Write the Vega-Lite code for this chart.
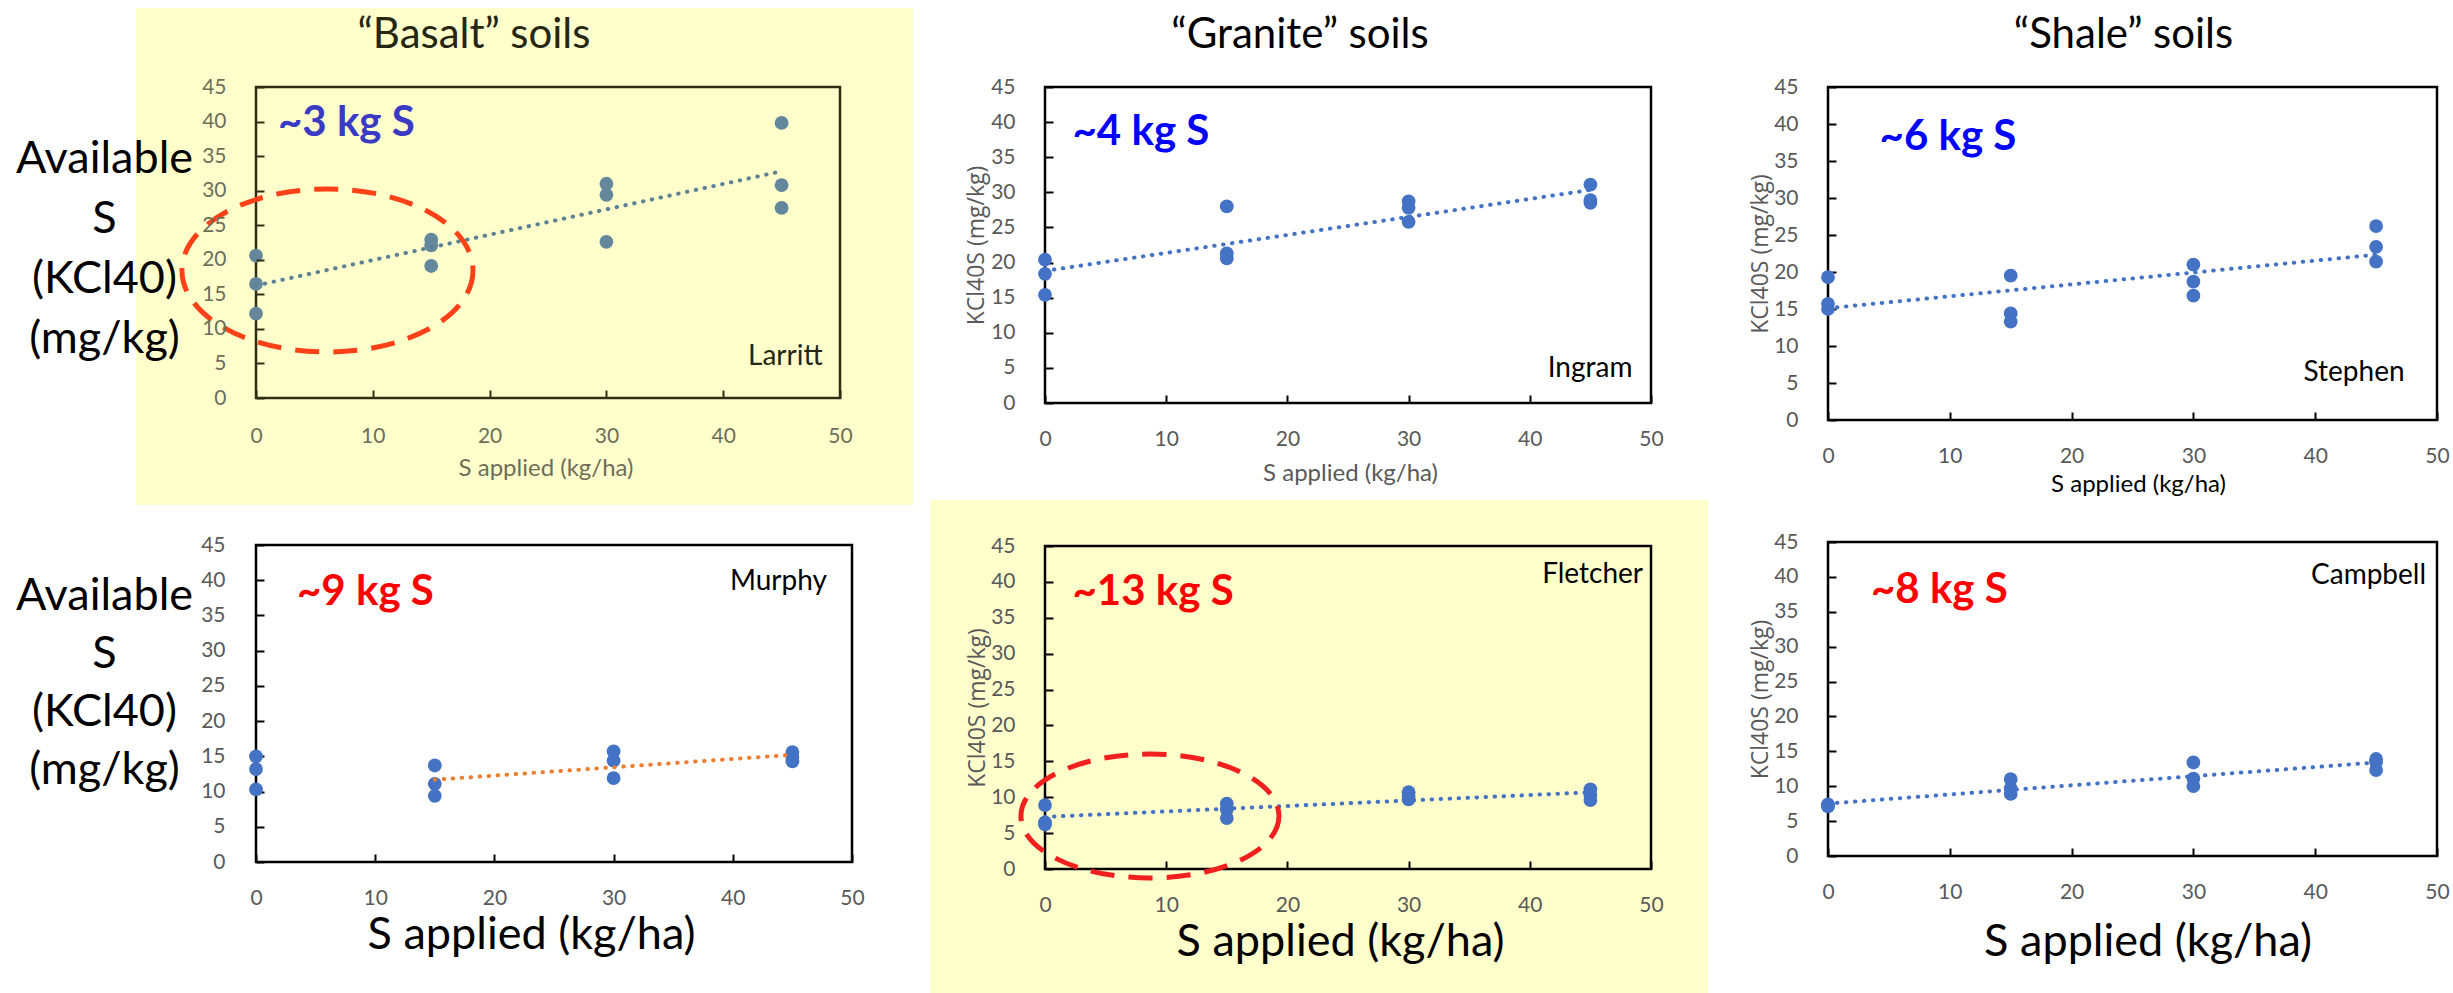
{
  "$schema": "https://vega.github.io/schema/vega-lite/v6.json",
  "autosize": {"type": "none"},
  "padding": {"left": 256, "top": 87, "right": 2197, "bottom": 906},
  "background": "#ffffff",
  "config": {
    "view": {"stroke": null},
    "axis": {
      "domain": false, "grid": false, "tickSize": -8, "tickWidth": 2, "tickColor": "#000000",
      "labelFont": "Lato", "labelFontSize": 21, "labelColor": "#595959",
      "labelFlush": false, "labelOverlap": false, "labelBound": false,
      "titleFont": "Lato", "titleFontWeight": "normal", "titleAlign": "center", "titleBaseline": "middle"
    }
  },
  "data": {
    "values": [
      {"site": "Larritt", "x": 0, "y": 20.6}, {"site": "Larritt", "x": 0, "y": 16.5}, {"site": "Larritt", "x": 0, "y": 12.2},
      {"site": "Larritt", "x": 15, "y": 22.9}, {"site": "Larritt", "x": 15, "y": 22.1}, {"site": "Larritt", "x": 15, "y": 19.1},
      {"site": "Larritt", "x": 30, "y": 31.0}, {"site": "Larritt", "x": 30, "y": 29.4}, {"site": "Larritt", "x": 30, "y": 22.6},
      {"site": "Larritt", "x": 45, "y": 39.8}, {"site": "Larritt", "x": 45, "y": 30.8}, {"site": "Larritt", "x": 45, "y": 27.5},
      {"site": "Ingram", "x": 0, "y": 20.4}, {"site": "Ingram", "x": 0, "y": 18.4}, {"site": "Ingram", "x": 0, "y": 15.4},
      {"site": "Ingram", "x": 15, "y": 28.0}, {"site": "Ingram", "x": 15, "y": 21.3}, {"site": "Ingram", "x": 15, "y": 20.6},
      {"site": "Ingram", "x": 30, "y": 28.7}, {"site": "Ingram", "x": 30, "y": 27.8}, {"site": "Ingram", "x": 30, "y": 25.8},
      {"site": "Ingram", "x": 45, "y": 31.1}, {"site": "Ingram", "x": 45, "y": 28.9}, {"site": "Ingram", "x": 45, "y": 28.5},
      {"site": "Stephen", "x": 0, "y": 19.3}, {"site": "Stephen", "x": 0, "y": 15.7}, {"site": "Stephen", "x": 0, "y": 15.0},
      {"site": "Stephen", "x": 15, "y": 19.5}, {"site": "Stephen", "x": 15, "y": 14.4}, {"site": "Stephen", "x": 15, "y": 13.3},
      {"site": "Stephen", "x": 30, "y": 21.0}, {"site": "Stephen", "x": 30, "y": 18.7}, {"site": "Stephen", "x": 30, "y": 16.8},
      {"site": "Stephen", "x": 45, "y": 26.2}, {"site": "Stephen", "x": 45, "y": 23.4}, {"site": "Stephen", "x": 45, "y": 21.4},
      {"site": "Murphy", "x": 0, "y": 15.0}, {"site": "Murphy", "x": 0, "y": 13.2}, {"site": "Murphy", "x": 0, "y": 10.3},
      {"site": "Murphy", "x": 15, "y": 13.7}, {"site": "Murphy", "x": 15, "y": 11.1}, {"site": "Murphy", "x": 15, "y": 9.4},
      {"site": "Murphy", "x": 30, "y": 15.7}, {"site": "Murphy", "x": 30, "y": 14.4}, {"site": "Murphy", "x": 30, "y": 11.9},
      {"site": "Murphy", "x": 45, "y": 15.6}, {"site": "Murphy", "x": 45, "y": 14.9}, {"site": "Murphy", "x": 45, "y": 14.3},
      {"site": "Fletcher", "x": 0, "y": 8.9}, {"site": "Fletcher", "x": 0, "y": 6.5}, {"site": "Fletcher", "x": 0, "y": 6.2},
      {"site": "Fletcher", "x": 15, "y": 9.1}, {"site": "Fletcher", "x": 15, "y": 8.3}, {"site": "Fletcher", "x": 15, "y": 7.1},
      {"site": "Fletcher", "x": 30, "y": 10.7}, {"site": "Fletcher", "x": 30, "y": 10.2}, {"site": "Fletcher", "x": 30, "y": 9.7},
      {"site": "Fletcher", "x": 45, "y": 11.1}, {"site": "Fletcher", "x": 45, "y": 10.3}, {"site": "Fletcher", "x": 45, "y": 9.6},
      {"site": "Campbell", "x": 0, "y": 7.4}, {"site": "Campbell", "x": 0, "y": 7.2}, {"site": "Campbell", "x": 0, "y": 7.1},
      {"site": "Campbell", "x": 15, "y": 11.0}, {"site": "Campbell", "x": 15, "y": 9.7}, {"site": "Campbell", "x": 15, "y": 8.9},
      {"site": "Campbell", "x": 30, "y": 13.4}, {"site": "Campbell", "x": 30, "y": 11.1}, {"site": "Campbell", "x": 30, "y": 10.0},
      {"site": "Campbell", "x": 45, "y": 13.9}, {"site": "Campbell", "x": 45, "y": 13.5}, {"site": "Campbell", "x": 45, "y": 12.3}
    ]
  },
  "spacing": 789,
  "bounds": "flush",
  "hconcat": [
    {
      "spacing": 147,
      "bounds": "flush",
      "vconcat": [
        {
          "width": 584, "height": 311,
          "resolve": {"axis": {"x": "independent", "y": "independent"}},
          "layer": [
            {"data": {"values": [{}]}, "mark": {"type": "rect", "fill": "#ffffcc"},
             "encoding": {"x": {"datum": -10.27, "type": "quantitative", "scale": {"domain": [0, 50], "nice": false, "zero": false}, "axis": null}, "x2": {"datum": 56.25},
                          "y": {"datum": -15.48, "type": "quantitative", "scale": {"domain": [0, 45], "nice": false, "zero": false}, "axis": null}, "y2": {"datum": 56.43}}},
            {"data": {"values": [{}]}, "mark": {"type": "rect", "filled": false, "stroke": "#2e2e14", "strokeWidth": 2.5},
             "encoding": {"x": {"datum": 0, "type": "quantitative", "scale": {"domain": [0, 50], "nice": false, "zero": false}, "axis": null}, "x2": {"datum": 50},
                          "y": {"datum": 0, "type": "quantitative", "scale": {"domain": [0, 45], "nice": false, "zero": false}, "axis": null}, "y2": {"datum": 45}}},
            {"transform": [{"filter": "datum.site === 'Larritt'"}],
             "mark": {"type": "circle", "size": 190, "opacity": 1, "color": "#64879b"},
             "encoding": {
               "x": {"field": "x", "type": "quantitative", "scale": {"domain": [0, 50], "nice": false, "zero": false},
                     "axis": {"orient": "bottom", "values": [0, 10, 20, 30, 40, 50], "tickSize": -8, "labelPadding": 35, "title": "S applied (kg/ha)", "titleFontSize": 24, "titleColor": "#6e6e58", "titleX": 289.5, "titleY": 70, "labelColor": "#6e6e58", "tickColor": "#2e2e14", "zindex": 1}},
               "y": {"field": "y", "type": "quantitative", "scale": {"domain": [0, 45], "nice": false, "zero": false},
                     "axis": {"orient": "left", "values": [0, 5, 10, 15, 20, 25, 30, 35, 40, 45], "tickSize": -8, "labelPadding": 38, "title": ["Available", "S", "(KCl40)", "(mg/kg)"], "titleFontSize": 45, "titleLineHeight": 60, "titleColor": "#000000", "titleAngle": 0, "titleAlign": "center", "titleBaseline": "middle", "titleX": -152, "titleY": 71, "labelColor": "#6e6e58", "tickColor": "#2e2e14", "zindex": 1}}
             }},
            {"transform": [{"filter": "datum.site === 'Larritt'"}, {"regression": "y", "on": "x"}],
             "mark": {"type": "line", "color": "#5d8296", "strokeWidth": 4, "strokeDash": [0.5, 8.5], "strokeCap": "round"},
             "encoding": {"x": {"field": "x", "type": "quantitative", "scale": {"domain": [0, 50], "nice": false, "zero": false}, "axis": null},
                          "y": {"field": "y", "type": "quantitative", "scale": {"domain": [0, 45], "nice": false, "zero": false}, "axis": null}}},
            {"data": {"values": [{}]}, "mark": {"type": "text", "text": "“Basalt” soils", "font": "Lato", "fontSize": 42, "color": "#262612", "align": "center", "baseline": "middle"},
             "encoding": {"x": {"datum": 18.66, "type": "quantitative", "scale": {"domain": [0, 50], "nice": false, "zero": false}, "axis": null},
                          "y": {"datum": 52.52, "type": "quantitative", "scale": {"domain": [0, 45], "nice": false, "zero": false}, "axis": null}}},
            {"data": {"values": [{}]}, "mark": {"type": "text", "text": "~3 kg S", "font": "Lato", "fontWeight": "bold", "fontSize": 42, "color": "#3a3ac4", "align": "left", "baseline": "middle"},
             "encoding": {"x": {"datum": 1.88, "type": "quantitative", "scale": {"domain": [0, 50], "nice": false, "zero": false}, "axis": null},
                          "y": {"datum": 39.79, "type": "quantitative", "scale": {"domain": [0, 45], "nice": false, "zero": false}, "axis": null}}},
            {"data": {"values": [{}]}, "mark": {"type": "text", "text": "Larritt", "font": "Lato", "fontSize": 28, "color": "#262612", "align": "right", "baseline": "middle"},
             "encoding": {"x": {"datum": 48.51, "type": "quantitative", "scale": {"domain": [0, 50], "nice": false, "zero": false}, "axis": null},
                          "y": {"datum": 5.93, "type": "quantitative", "scale": {"domain": [0, 45], "nice": false, "zero": false}, "axis": null}}},
            {"data": {"values": [{}]},
             "mark": {"type": "point", "shape": "M 1 0 C 1 0.3093 0.5523 0.56 0 0.56 C -0.5523 0.56 -1 0.3093 -1 0 C -1 -0.3093 -0.5523 -0.56 0 -0.56 C 0.5523 -0.56 1 -0.3093 1 0 Z",
                      "size": 84681, "filled": false, "opacity": 1, "stroke": "#ff4117", "strokeWidth": 5, "strokeDash": [24, 14]},
             "encoding": {"x": {"datum": 6.12, "type": "quantitative", "scale": {"domain": [0, 50], "nice": false, "zero": false}, "axis": null},
                          "y": {"datum": 18.45, "type": "quantitative", "scale": {"domain": [0, 45], "nice": false, "zero": false}, "axis": null}}}
          ]
        },
        {
          "width": 596, "height": 317,
          "resolve": {"axis": {"x": "independent", "y": "independent"}},
          "layer": [
            {"data": {"values": [{}]}, "mark": {"type": "rect", "filled": false, "stroke": "#000000", "strokeWidth": 2.5},
             "encoding": {"x": {"datum": 0, "type": "quantitative", "scale": {"domain": [0, 50], "nice": false, "zero": false}, "axis": null}, "x2": {"datum": 50},
                          "y": {"datum": 0, "type": "quantitative", "scale": {"domain": [0, 45], "nice": false, "zero": false}, "axis": null}, "y2": {"datum": 45}}},
            {"transform": [{"filter": "datum.site === 'Murphy'"}],
             "mark": {"type": "circle", "size": 190, "opacity": 1, "color": "#4472c4"},
             "encoding": {
               "x": {"field": "x", "type": "quantitative", "scale": {"domain": [0, 50], "nice": false, "zero": false},
                     "axis": {"orient": "bottom", "values": [0, 10, 20, 30, 40, 50], "tickSize": -8, "labelPadding": 33, "title": "S applied (kg/ha)", "titleFontSize": 45, "titleColor": "#000000", "titleX": 275, "titleY": 72}},
               "y": {"field": "y", "type": "quantitative", "scale": {"domain": [0, 45], "nice": false, "zero": false},
                     "axis": {"orient": "left", "values": [0, 5, 10, 15, 20, 25, 30, 35, 40, 45], "tickSize": -8, "labelPadding": 39, "title": ["Available", "S", "(KCl40)", "(mg/kg)"], "titleFontSize": 45, "titleLineHeight": 58, "titleColor": "#000000", "titleAngle": 0, "titleAlign": "center", "titleBaseline": "middle", "titleX": -152, "titleY": 50}}
             }},
            {"transform": [{"filter": "datum.site === 'Murphy' && datum.x > 0"}, {"regression": "y", "on": "x"}],
             "mark": {"type": "line", "color": "#ed7d31", "strokeWidth": 4, "strokeDash": [0.5, 8.5], "strokeCap": "round"},
             "encoding": {"x": {"field": "x", "type": "quantitative", "scale": {"domain": [0, 50], "nice": false, "zero": false}, "axis": null},
                          "y": {"field": "y", "type": "quantitative", "scale": {"domain": [0, 45], "nice": false, "zero": false}, "axis": null}}},
            {"data": {"values": [{}]}, "mark": {"type": "text", "text": "~9 kg S", "font": "Lato", "fontWeight": "bold", "fontSize": 42, "color": "#ff0000", "align": "left", "baseline": "middle"},
             "encoding": {"x": {"datum": 3.44, "type": "quantitative", "scale": {"domain": [0, 50], "nice": false, "zero": false}, "axis": null},
                          "y": {"datum": 38.3, "type": "quantitative", "scale": {"domain": [0, 45], "nice": false, "zero": false}, "axis": null}}},
            {"data": {"values": [{}]}, "mark": {"type": "text", "text": "Murphy", "font": "Lato", "fontSize": 28, "color": "#000000", "align": "right", "baseline": "middle"},
             "encoding": {"x": {"datum": 47.9, "type": "quantitative", "scale": {"domain": [0, 50], "nice": false, "zero": false}, "axis": null},
                          "y": {"datum": 39.75, "type": "quantitative", "scale": {"domain": [0, 45], "nice": false, "zero": false}, "axis": null}}}
          ]
        }
      ]
    },
    {
      "spacing": 783,
      "bounds": "flush",
      "hconcat": [
        {
          "spacing": 143,
          "bounds": "flush",
          "vconcat": [
            {
              "width": 606, "height": 316,
              "resolve": {"axis": {"x": "independent", "y": "independent"}},
              "layer": [
                {"data": {"values": [{}]}, "mark": {"type": "rect", "filled": false, "stroke": "#000000", "strokeWidth": 2.5},
                 "encoding": {"x": {"datum": 0, "type": "quantitative", "scale": {"domain": [0, 50], "nice": false, "zero": false}, "axis": null}, "x2": {"datum": 50},
                              "y": {"datum": 0, "type": "quantitative", "scale": {"domain": [0, 45], "nice": false, "zero": false}, "axis": null}, "y2": {"datum": 45}}},
                {"transform": [{"filter": "datum.site === 'Ingram'"}],
                 "mark": {"type": "circle", "size": 190, "opacity": 1, "color": "#4472c4"},
                 "encoding": {
                   "x": {"field": "x", "type": "quantitative", "scale": {"domain": [0, 50], "nice": false, "zero": false},
                         "axis": {"orient": "bottom", "values": [0, 10, 20, 30, 40, 50], "tickSize": -8, "labelPadding": 33, "title": "S applied (kg/ha)", "titleFontSize": 24, "titleColor": "#595959", "titleX": 305, "titleY": 70}},
                   "y": {"field": "y", "type": "quantitative", "scale": {"domain": [0, 45], "nice": false, "zero": false},
                         "axis": {"orient": "left", "values": [0, 5, 10, 15, 20, 25, 30, 35, 40, 45], "tickSize": -8, "labelPadding": 38, "title": "KCl40S (mg/kg)", "titleFont": "Open Sans", "titleFontSize": 23, "titleColor": "#595959", "titleAngle": 270, "titleAlign": "center", "titleBaseline": "middle", "titleX": -69, "titleY": 158}}
                 }},
                {"transform": [{"filter": "datum.site === 'Ingram'"}, {"regression": "y", "on": "x"}],
                 "mark": {"type": "line", "color": "#4472c4", "strokeWidth": 4, "strokeDash": [0.5, 8.5], "strokeCap": "round"},
                 "encoding": {"x": {"field": "x", "type": "quantitative", "scale": {"domain": [0, 50], "nice": false, "zero": false}, "axis": null},
                              "y": {"field": "y", "type": "quantitative", "scale": {"domain": [0, 45], "nice": false, "zero": false}, "axis": null}}},
                {"data": {"values": [{}]}, "mark": {"type": "text", "text": "“Granite” soils", "font": "Lato", "fontSize": 42, "color": "#000000", "align": "center", "baseline": "middle"},
                 "encoding": {"x": {"datum": 21.04, "type": "quantitative", "scale": {"domain": [0, 50], "nice": false, "zero": false}, "axis": null},
                              "y": {"datum": 52.41, "type": "quantitative", "scale": {"domain": [0, 45], "nice": false, "zero": false}, "axis": null}}},
                {"data": {"values": [{}]}, "mark": {"type": "text", "text": "~4 kg S", "font": "Lato", "fontWeight": "bold", "fontSize": 42, "color": "#0000ff", "align": "left", "baseline": "middle"},
                 "encoding": {"x": {"datum": 2.27, "type": "quantitative", "scale": {"domain": [0, 50], "nice": false, "zero": false}, "axis": null},
                              "y": {"datum": 38.6, "type": "quantitative", "scale": {"domain": [0, 45], "nice": false, "zero": false}, "axis": null}}},
                {"data": {"values": [{}]}, "mark": {"type": "text", "text": "Ingram", "font": "Lato", "fontSize": 28, "color": "#000000", "align": "right", "baseline": "middle"},
                 "encoding": {"x": {"datum": 48.47, "type": "quantitative", "scale": {"domain": [0, 50], "nice": false, "zero": false}, "axis": null},
                              "y": {"datum": 4.84, "type": "quantitative", "scale": {"domain": [0, 45], "nice": false, "zero": false}, "axis": null}}}
              ]
            },
            {
              "width": 606, "height": 323,
              "resolve": {"axis": {"x": "independent", "y": "independent"}},
              "layer": [
                {"data": {"values": [{}]}, "mark": {"type": "rect", "fill": "#ffffcc"},
                 "encoding": {"x": {"datum": -9.49, "type": "quantitative", "scale": {"domain": [0, 50], "nice": false, "zero": false}, "axis": null}, "x2": {"datum": 54.7},
                              "y": {"datum": -17.6, "type": "quantitative", "scale": {"domain": [0, 45], "nice": false, "zero": false}, "axis": null}, "y2": {"datum": 51.4}}},
                {"data": {"values": [{}]}, "mark": {"type": "rect", "filled": false, "stroke": "#000000", "strokeWidth": 2.5},
                 "encoding": {"x": {"datum": 0, "type": "quantitative", "scale": {"domain": [0, 50], "nice": false, "zero": false}, "axis": null}, "x2": {"datum": 50},
                              "y": {"datum": 0, "type": "quantitative", "scale": {"domain": [0, 45], "nice": false, "zero": false}, "axis": null}, "y2": {"datum": 45}}},
                {"transform": [{"filter": "datum.site === 'Fletcher'"}],
                 "mark": {"type": "circle", "size": 190, "opacity": 1, "color": "#4472c4"},
                 "encoding": {
                   "x": {"field": "x", "type": "quantitative", "scale": {"domain": [0, 50], "nice": false, "zero": false},
                         "axis": {"orient": "bottom", "values": [0, 10, 20, 30, 40, 50], "tickSize": -8, "labelPadding": 33, "title": "S applied (kg/ha)", "titleFontSize": 45, "titleColor": "#000000", "titleX": 295, "titleY": 72, "zindex": 1}},
                   "y": {"field": "y", "type": "quantitative", "scale": {"domain": [0, 45], "nice": false, "zero": false},
                         "axis": {"orient": "left", "values": [0, 5, 10, 15, 20, 25, 30, 35, 40, 45], "tickSize": -8, "labelPadding": 38, "title": "KCl40S (mg/kg)", "titleFont": "Open Sans", "titleFontSize": 23, "titleColor": "#595959", "titleAngle": 270, "titleAlign": "center", "titleBaseline": "middle", "titleX": -68, "titleY": 161.5, "zindex": 1}}
                 }},
                {"transform": [{"filter": "datum.site === 'Fletcher'"}, {"regression": "y", "on": "x"}],
                 "mark": {"type": "line", "color": "#4472c4", "strokeWidth": 4, "strokeDash": [0.5, 8.5], "strokeCap": "round"},
                 "encoding": {"x": {"field": "x", "type": "quantitative", "scale": {"domain": [0, 50], "nice": false, "zero": false}, "axis": null},
                              "y": {"field": "y", "type": "quantitative", "scale": {"domain": [0, 45], "nice": false, "zero": false}, "axis": null}}},
                {"data": {"values": [{}]}, "mark": {"type": "text", "text": "~13 kg S", "font": "Lato", "fontWeight": "bold", "fontSize": 42, "color": "#ff0000", "align": "left", "baseline": "middle"},
                 "encoding": {"x": {"datum": 2.27, "type": "quantitative", "scale": {"domain": [0, 50], "nice": false, "zero": false}, "axis": null},
                              "y": {"datum": 38.6, "type": "quantitative", "scale": {"domain": [0, 45], "nice": false, "zero": false}, "axis": null}}},
                {"data": {"values": [{}]}, "mark": {"type": "text", "text": "Fletcher", "font": "Lato", "fontSize": 28, "color": "#000000", "align": "right", "baseline": "middle"},
                 "encoding": {"x": {"datum": 49.34, "type": "quantitative", "scale": {"domain": [0, 50], "nice": false, "zero": false}, "axis": null},
                              "y": {"datum": 40.96, "type": "quantitative", "scale": {"domain": [0, 45], "nice": false, "zero": false}, "axis": null}}},
                {"data": {"values": [{}]},
                 "mark": {"type": "point", "shape": "M 1 0 C 1 0.2651 0.5523 0.48 0 0.48 C -0.5523 0.48 -1 0.2651 -1 0 C -1 -0.2651 -0.5523 -0.48 0 -0.48 C 0.5523 -0.48 1 -0.2651 1 0 Z",
                          "size": 66564, "filled": false, "opacity": 1, "stroke": "#f0201e", "strokeWidth": 5, "strokeDash": [24, 14]},
                 "encoding": {"x": {"datum": 8.66, "type": "quantitative", "scale": {"domain": [0, 50], "nice": false, "zero": false}, "axis": null},
                              "y": {"datum": 7.38, "type": "quantitative", "scale": {"domain": [0, 45], "nice": false, "zero": false}, "axis": null}}}
              ]
            }
          ]
        },
        {
          "spacing": 122,
          "bounds": "flush",
          "vconcat": [
            {
              "width": 609, "height": 333,
              "resolve": {"axis": {"x": "independent", "y": "independent"}},
              "layer": [
                {"data": {"values": [{}]}, "mark": {"type": "rect", "filled": false, "stroke": "#000000", "strokeWidth": 2.5},
                 "encoding": {"x": {"datum": 0, "type": "quantitative", "scale": {"domain": [0, 50], "nice": false, "zero": false}, "axis": null}, "x2": {"datum": 50},
                              "y": {"datum": 0, "type": "quantitative", "scale": {"domain": [0, 45], "nice": false, "zero": false}, "axis": null}, "y2": {"datum": 45}}},
                {"transform": [{"filter": "datum.site === 'Stephen'"}],
                 "mark": {"type": "circle", "size": 190, "opacity": 1, "color": "#4472c4"},
                 "encoding": {
                   "x": {"field": "x", "type": "quantitative", "scale": {"domain": [0, 50], "nice": false, "zero": false},
                         "axis": {"orient": "bottom", "values": [0, 10, 20, 30, 40, 50], "tickSize": -8, "labelPadding": 33, "title": "S applied (kg/ha)", "titleFontSize": 24, "titleColor": "#000000", "titleX": 310, "titleY": 64}},
                   "y": {"field": "y", "type": "quantitative", "scale": {"domain": [0, 45], "nice": false, "zero": false},
                         "axis": {"orient": "left", "values": [0, 5, 10, 15, 20, 25, 30, 35, 40, 45], "tickSize": -8, "labelPadding": 38, "title": "KCl40S (mg/kg)", "titleFont": "Open Sans", "titleFontSize": 23, "titleColor": "#595959", "titleAngle": 270, "titleAlign": "center", "titleBaseline": "middle", "titleX": -68, "titleY": 166.5}}
                 }},
                {"transform": [{"filter": "datum.site === 'Stephen'"}, {"regression": "y", "on": "x"}],
                 "mark": {"type": "line", "color": "#4472c4", "strokeWidth": 4, "strokeDash": [0.5, 8.5], "strokeCap": "round"},
                 "encoding": {"x": {"field": "x", "type": "quantitative", "scale": {"domain": [0, 50], "nice": false, "zero": false}, "axis": null},
                              "y": {"field": "y", "type": "quantitative", "scale": {"domain": [0, 45], "nice": false, "zero": false}, "axis": null}}},
                {"data": {"values": [{}]}, "mark": {"type": "text", "text": "“Shale” soils", "font": "Lato", "fontSize": 42, "color": "#000000", "align": "center", "baseline": "middle"},
                 "encoding": {"x": {"datum": 24.26, "type": "quantitative", "scale": {"domain": [0, 50], "nice": false, "zero": false}, "axis": null},
                              "y": {"datum": 52.03, "type": "quantitative", "scale": {"domain": [0, 45], "nice": false, "zero": false}, "axis": null}}},
                {"data": {"values": [{}]}, "mark": {"type": "text", "text": "~6 kg S", "font": "Lato", "fontWeight": "bold", "fontSize": 42, "color": "#0000ff", "align": "left", "baseline": "middle"},
                 "encoding": {"x": {"datum": 4.23, "type": "quantitative", "scale": {"domain": [0, 50], "nice": false, "zero": false}, "axis": null},
                              "y": {"datum": 38.2, "type": "quantitative", "scale": {"domain": [0, 45], "nice": false, "zero": false}, "axis": null}}},
                {"data": {"values": [{}]}, "mark": {"type": "text", "text": "Stephen", "font": "Lato", "fontSize": 28, "color": "#000000", "align": "right", "baseline": "middle"},
                 "encoding": {"x": {"datum": 47.34, "type": "quantitative", "scale": {"domain": [0, 50], "nice": false, "zero": false}, "axis": null},
                              "y": {"datum": 6.35, "type": "quantitative", "scale": {"domain": [0, 45], "nice": false, "zero": false}, "axis": null}}}
              ]
            },
            {
              "width": 609, "height": 314,
              "resolve": {"axis": {"x": "independent", "y": "independent"}},
              "layer": [
                {"data": {"values": [{}]}, "mark": {"type": "rect", "filled": false, "stroke": "#000000", "strokeWidth": 2.5},
                 "encoding": {"x": {"datum": 0, "type": "quantitative", "scale": {"domain": [0, 50], "nice": false, "zero": false}, "axis": null}, "x2": {"datum": 50},
                              "y": {"datum": 0, "type": "quantitative", "scale": {"domain": [0, 45], "nice": false, "zero": false}, "axis": null}, "y2": {"datum": 45}}},
                {"transform": [{"filter": "datum.site === 'Campbell'"}],
                 "mark": {"type": "circle", "size": 190, "opacity": 1, "color": "#4472c4"},
                 "encoding": {
                   "x": {"field": "x", "type": "quantitative", "scale": {"domain": [0, 50], "nice": false, "zero": false},
                         "axis": {"orient": "bottom", "values": [0, 10, 20, 30, 40, 50], "tickSize": -8, "labelPadding": 33, "title": "S applied (kg/ha)", "titleFontSize": 45, "titleColor": "#000000", "titleX": 319.6, "titleY": 85.7}},
                   "y": {"field": "y", "type": "quantitative", "scale": {"domain": [0, 45], "nice": false, "zero": false},
                         "axis": {"orient": "left", "values": [0, 5, 10, 15, 20, 25, 30, 35, 40, 45], "tickSize": -8, "labelPadding": 38, "title": "KCl40S (mg/kg)", "titleFont": "Open Sans", "titleFontSize": 23, "titleColor": "#595959", "titleAngle": 270, "titleAlign": "center", "titleBaseline": "middle", "titleX": -68, "titleY": 157}}
                 }},
                {"transform": [{"filter": "datum.site === 'Campbell'"}, {"regression": "y", "on": "x"}],
                 "mark": {"type": "line", "color": "#4472c4", "strokeWidth": 4, "strokeDash": [0.5, 8.5], "strokeCap": "round"},
                 "encoding": {"x": {"field": "x", "type": "quantitative", "scale": {"domain": [0, 50], "nice": false, "zero": false}, "axis": null},
                              "y": {"field": "y", "type": "quantitative", "scale": {"domain": [0, 45], "nice": false, "zero": false}, "axis": null}}},
                {"data": {"values": [{}]}, "mark": {"type": "text", "text": "~8 kg S", "font": "Lato", "fontWeight": "bold", "fontSize": 42, "color": "#ff0000", "align": "left", "baseline": "middle"},
                 "encoding": {"x": {"datum": 3.53, "type": "quantitative", "scale": {"domain": [0, 50], "nice": false, "zero": false}, "axis": null},
                              "y": {"datum": 38.1, "type": "quantitative", "scale": {"domain": [0, 45], "nice": false, "zero": false}, "axis": null}}},
                {"data": {"values": [{}]}, "mark": {"type": "text", "text": "Campbell", "font": "Lato", "fontSize": 28, "color": "#000000", "align": "right", "baseline": "middle"},
                 "encoding": {"x": {"datum": 49.1, "type": "quantitative", "scale": {"domain": [0, 50], "nice": false, "zero": false}, "axis": null},
                              "y": {"datum": 40.1, "type": "quantitative", "scale": {"domain": [0, 45], "nice": false, "zero": false}, "axis": null}}}
              ]
            }
          ]
        }
      ]
    }
  ]
}
